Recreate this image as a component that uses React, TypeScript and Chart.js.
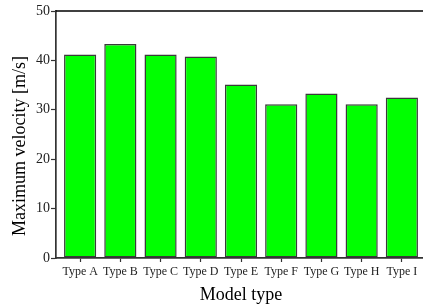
import React, { useEffect, useRef } from "react";
import { Chart, registerables } from "chart.js";

Chart.register(...registerables);

const categories = ["Type A", "Type B", "Type C", "Type D", "Type E", "Type F", "Type G", "Type H", "Type I"];
const velocities = [41.2, 43.3, 41.2, 40.8, 35.1, 31.1, 33.3, 31.1, 32.5];
const yTicks = [0, 10, 20, 30, 40, 50];
const xTitle = "Model type";
const yTitle = "Maximum velocity [m/s]";

const FONT = "'Liberation Serif', 'Times New Roman', serif";

const framePlugin = {
  id: "frameAndTitles",
  afterDraw(chart: any) {
    const { ctx, chartArea } = chart;
    ctx.save();
    ctx.strokeStyle = "#000";
    ctx.lineWidth = 1.5;
    ctx.beginPath();
    ctx.moveTo(chartArea.left, chartArea.top);
    ctx.lineTo(chartArea.right, chartArea.top);
    ctx.stroke();
    ctx.fillStyle = "#000";
    ctx.font = `18px ${FONT}`;
    ctx.textAlign = "center";
    ctx.textBaseline = "middle";
    ctx.translate(20, 146);
    ctx.rotate(-Math.PI / 2);
    ctx.fillText(yTitle, 0, 0);
    ctx.restore();
    ctx.save();
    ctx.fillStyle = "#000";
    ctx.font = `18px ${FONT}`;
    ctx.textAlign = "center";
    ctx.textBaseline = "middle";
    ctx.fillText(xTitle, (chartArea.left + chartArea.right) / 2, 295);
    ctx.restore();
  },
};

export default function App() {
  const ref = useRef<HTMLCanvasElement>(null);
  useEffect(() => {
    if (!ref.current) return;
    const chart = new Chart(ref.current, {
      type: "bar",
      data: {
        datasets: [
          {
            data: velocities.map((v, i) => ({ x: i + 1, y: v })),
            backgroundColor: "#00ff00",
            borderColor: "#3a3a3a",
            borderWidth: 1.5,
            borderSkipped: false,
            categoryPercentage: 1,
            barPercentage: 0.8,
          },
        ],
      },
      options: {
        animation: false,
        responsive: false,
        layout: { padding: { top: 11, right: 14, left: 0, bottom: 0 } },
        plugins: { legend: { display: false }, tooltip: { enabled: false } },
        scales: {
          x: {
            type: "linear",
            min: 0.4,
            max: 9.6,
            offset: false,
            afterBuildTicks: (s: any) => {
              s.ticks = categories.map((_, i) => ({ value: i + 1 }));
            },
            afterFit: (s: any) => {
              s.height = 48;
            },
            grid: { offset: false, drawOnChartArea: false, drawTicks: true, tickLength: 4, tickColor: "#333", tickWidth: 1.2 },
            border: { display: true, color: "#333", width: 1.7 },
            ticks: {
              autoSkip: false,
              maxRotation: 0,
              padding: 3,
              color: "#222",
              font: { family: FONT, size: 12 },
              callback: (v: any) => categories[Math.round(v) - 1] ?? "",
            },
          },
          y: {
            type: "linear",
            min: 0,
            max: 50,
            afterBuildTicks: (s: any) => {
              s.ticks = yTicks.map((v) => ({ value: v }));
            },
            afterFit: (s: any) => {
              s.width = 56;
            },
            grid: { drawOnChartArea: false, drawTicks: true, tickLength: 5, tickColor: "#333", tickWidth: 1.2 },
            border: { display: true, color: "#333", width: 1.7 },
            ticks: {
              padding: 1,
              color: "#222",
              font: { family: FONT, size: 14 },
            },
          },
        },
      },
      plugins: [framePlugin],
    } as any);
    return () => chart.destroy();
  }, []);
  return (
    <div style={{ position: "fixed", left: 0, top: 0, width: 423, height: 306, overflow: "hidden", background: "#fff" }}>
      <canvas ref={ref} width={440} height={306} style={{ width: 440, height: 306, display: "block" }} />
    </div>
  );
}
